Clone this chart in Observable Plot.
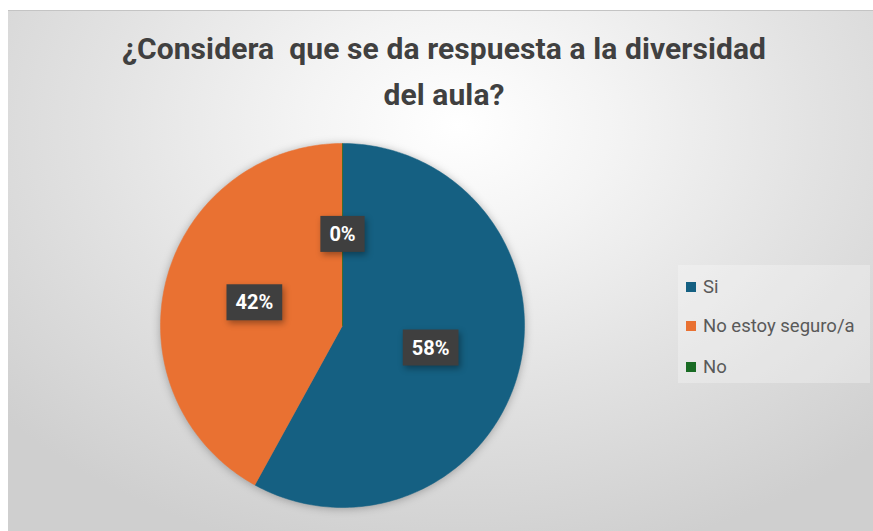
<!DOCTYPE html>
<html>
<head>
<meta charset="utf-8">
<script src="https://cdn.jsdelivr.net/npm/d3@7"></script>
<script src="https://cdn.jsdelivr.net/npm/@observablehq/plot@0.6"></script>
<style>
  html, body { margin: 0; padding: 0; background: #ffffff; }
  #page { position: relative; width: 873px; height: 531px; overflow: hidden; }
  #bg { position: absolute; left: 8px; top: 10px; width: 865px; height: 521px;
        background: radial-gradient(ellipse 70% 85% at 52% 22%, #ffffff 0%, #f4f4f4 25%, #e2e2e2 60%, #cfcfcf 100%);
        border-top: 1px solid #c4c4c4; box-sizing: border-box; }
  #title { position: absolute; left: 44px; width: 800px; top: 26px; text-align: center;
           font-family: Roboto, "Open Sans", sans-serif; font-weight: 700; font-size: 30px;
           line-height: 46px; color: #404040; letter-spacing: 0.1px; }
  #legend { position: absolute; left: 678px; top: 265px; width: 192px; height: 118px;
            background: rgba(255,255,255,0.28); box-sizing: border-box; }
  .item { position: absolute; left: 8px; height: 22px; display: flex; align-items: center;
          font-family: Roboto, sans-serif; font-size: 18.5px; color: #595959; white-space: nowrap; }
  .sw { width: 10px; height: 10px; margin-right: 7px; }
  #chart { position: absolute; left: 0; top: 0; }
</style>
</head>
<body>
<div id="page">
  <div id="bg"></div>
  <div id="title">¿Considera&nbsp; que se da respuesta a la diversidad<br>del aula?</div>
  <div id="legend"></div>
  <div id="chart"></div>
</div>
<script>
const categories = ["Si", "No estoy seguro/a", "No"];
const values = [58, 42, 0];
const labels = ["58%", "42%", "0%"];
const colors = ["#156082", "#E97132", "#196B24"];

const data = categories.map((c, i) => ({key: c, value: values[i], label: labels[i]}));
const arcs = d3.pie().sort(null).value(d => d.value).startAngle(0).endAngle(2 * Math.PI)(data);

// slice outlines in unit coordinates (angle clockwise from top)
const slicePts = [];
arcs.forEach(a => {
  const k = a.data.key;
  slicePts.push({key: k, x: 0, y: 0});
  const n = Math.max(1, Math.ceil((a.endAngle - a.startAngle) / (Math.PI / 180)));
  for (let j = 0; j <= n; j++) {
    const t = a.startAngle + (a.endAngle - a.startAngle) * j / n;
    slicePts.push({key: k, x: Math.sin(t), y: Math.cos(t)});
  }
  slicePts.push({key: k, x: 0, y: 0});
});
const labelPts = arcs.map(a => {
  const m = (a.startAngle + a.endAngle) / 2;
  return {key: a.data.key, label: a.data.label, x: 0.5 * Math.sin(m), y: 0.5 * Math.cos(m)};
});

const cx = 342, cy = 325, R = 182;
const chart = Plot.plot({
  width: 873, height: 531,
  style: {background: "transparent", overflow: "visible"},
  x: {domain: [-1, 1], range: [cx - R, cx + R], axis: null},
  y: {domain: [-1, 1], range: [cy + R, cy - R], axis: null},
  color: {domain: categories, range: colors},
  marks: [
    Plot.line(slicePts, {x: "x", y: "y", z: "key", fill: "key", stroke: "key", strokeWidth: 0.5, curve: "linear",
      render(index, scales, values, dims, ctx, next) {
        const g = next(index, scales, values, dims, ctx);
        g.setAttribute("style", "filter: drop-shadow(0px 1px 4px rgba(0,0,0,0.28))");
        return g;
      }}),
    Plot.text(labelPts, {x: "x", y: "y", text: "label", fill: "white", fontWeight: "bold", fontSize: 20,
      fontFamily: "Roboto, sans-serif", className: "lbl"})
  ]
});
document.getElementById("chart").appendChild(chart);

// dark boxes behind the data labels
document.querySelectorAll(".lbl text").forEach(t => {
  const b = t.getBBox();
  const r = document.createElementNS("http://www.w3.org/2000/svg", "rect");
  const px = 9, py = 7;
  r.setAttribute("x", b.x - px); r.setAttribute("y", b.y - py + 1);
  r.setAttribute("width", b.width + 2 * px); r.setAttribute("height", b.height + 2 * py - 2);
  r.setAttribute("fill", "#3f3f3f");
  r.setAttribute("style", "filter: drop-shadow(2px 3px 3px rgba(0,0,0,0.35))");
  const tr = t.getAttribute("transform");
  if (tr) r.setAttribute("transform", tr);
  t.parentNode.insertBefore(r, t);
});

// legend
const leg = document.getElementById("legend");
const rowY = [11, 50, 91];
categories.forEach((c, i) => {
  const d = document.createElement("div");
  d.className = "item";
  d.style.top = rowY[i] + "px";
  d.innerHTML = `<span class="sw" style="background:${colors[i]}"></span><span>${c}</span>`;
  leg.appendChild(d);
});
</script>
</body>
</html>
